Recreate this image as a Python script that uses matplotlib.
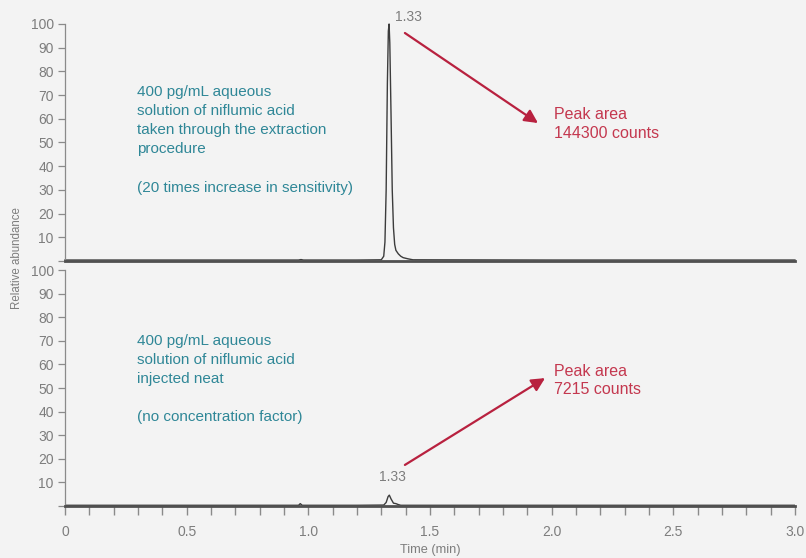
import matplotlib.pyplot as plt

plt.rcParams['font.family'] = ['Liberation Sans', 'DejaVu Sans']

# --------------------------------------------
# DATA
# --------------------------------------------
# top trace: extracted sample
t_top = [0.0, 0.5, 0.96, 0.97, 0.98, 1.20, 1.30, 1.31, 1.315, 1.32, 1.325,
         1.329, 1.332, 1.335, 1.34, 1.345, 1.35, 1.355, 1.36, 1.37, 1.38,
         1.39, 1.41, 1.43, 2.0, 3.0]
i_top = [0.4, 0.4, 0.4, 0.6, 0.4, 0.4, 0.5, 2.0, 8.0, 30.0, 75.0,
         97.0, 100.0, 92.0, 62.0, 30.0, 14.0, 7.0, 4.5, 3.0, 2.0,
         1.4, 0.9, 0.5, 0.4, 0.4]

# bottom trace: injected neat
t_bot = [0.0, 0.5, 0.96, 0.967, 0.975, 1.20, 1.31, 1.32, 1.328, 1.333,
         1.34, 1.35, 1.36, 1.37, 1.38, 2.0, 3.0]
i_bot = [0.3, 0.3, 0.3, 1.0, 0.3, 0.3, 0.4, 1.5, 4.0, 4.6,
         3.0, 1.2, 1.0, 0.6, 0.3, 0.3, 0.3]

peak_rt = 1.33
y_ticks = [0, 10, 20, 30, 40, 50, 60, 70, 80, 90, 100]
y_labels = [''] + [str(v) for v in y_ticks[1:]]
x_major = [0, 0.5, 1.0, 1.5, 2.0, 2.5, 3.0]
x_major_labels = ['0', '0.5', '1.0', '1.5', '2.0', '2.5', '3.0']
x_minor = [i / 10 for i in range(31)]

top_note = ("400 pg/mL aqueous\nsolution of niflumic acid\n"
            "taken through the extraction\nprocedure\n\n"
            "(20 times increase in sensitivity)")
bot_note = ("400 pg/mL aqueous\nsolution of niflumic acid\n"
            "injected neat\n\n(no concentration factor)")
top_area = "Peak area\n144300 counts"
bot_area = "Peak area\n7215 counts"

# --------------------------------------------
# STYLE
# --------------------------------------------
bg = '#f3f3f3'
teal = '#2f8797'
red = '#b8213f'
txt_red = '#c4384f'
label_grey = '#7d7d7d'
trace = '#3c3c3c'

fig = plt.figure(figsize=(8.06, 5.58), dpi=100, facecolor=bg)
ax_top = fig.add_axes([0.0806, 0.5323, 0.9057, 0.4247])
ax_bot = fig.add_axes([0.0806, 0.0932, 0.9057, 0.4229])

for ax in (ax_top, ax_bot):
    ax.set_facecolor(bg)
    ax.set_xlim(0, 3.0)
    ax.set_ylim(0, 100)
    for s in ('top', 'right'):
        ax.spines[s].set_visible(False)
    ax.spines['left'].set_color('#8a8a8a')
    ax.spines['left'].set_linewidth(0.9)
    ax.spines['bottom'].set_color('#505050')
    ax.spines['bottom'].set_linewidth(2.0)
    ax.set_yticks(y_ticks)
    ax.set_yticklabels(y_labels)
    ax.tick_params(axis='y', direction='out', length=5, width=0.9,
                   color='#8a8a8a', labelcolor=label_grey, labelsize=10, pad=3)

ax_top.plot(t_top, i_top, color=trace, lw=1.0, clip_on=False)
ax_bot.plot(t_bot, i_bot, color=trace, lw=1.0)

ax_top.set_xticks([])
ax_bot.set_xticks(x_minor, minor=True)
ax_bot.set_xticks(x_major)
ax_bot.set_xticklabels(x_major_labels)
ax_bot.tick_params(axis='x', which='both', direction='out', length=6.5,
                   width=1.0, color='#8a8a8a', labelcolor=label_grey,
                   labelsize=10, pad=7)

# retention time labels
ax_top.text(1.41, 103.0, f'{peak_rt:.2f}', color=label_grey, fontsize=10,
            ha='center', va='center', clip_on=False)
ax_bot.text(1.344, 12.3, f'{peak_rt:.2f}', color=label_grey, fontsize=10,
            ha='center', va='center')

# sample descriptions
ax_top.text(0.296, 74.3, top_note, color=teal, fontsize=11,
            ha='left', va='top', linespacing=1.47)
ax_bot.text(0.296, 73.0, bot_note, color=teal, fontsize=11,
            ha='left', va='top', linespacing=1.47)

# peak areas + arrows
ax_top.text(2.01, 57.8, top_area, color=txt_red, fontsize=11.5,
            ha='left', va='center', linespacing=1.27)
ax_bot.text(2.01, 53.3, bot_area, color=txt_red, fontsize=11.5,
            ha='left', va='center', linespacing=1.27)

arrow = dict(arrowstyle='-|>', color=red, lw=1.6, mutation_scale=20,
             shrinkA=0, shrinkB=0)
ax_top.annotate('', xy=(1.944, 58.2), xytext=(1.397, 96.2), arrowprops=arrow)
ax_bot.annotate('', xy=(1.973, 54.2), xytext=(1.397, 17.4), arrowprops=arrow)

fig.text(0.021, 0.537, 'Relative abundance', rotation=90, color=label_grey,
         fontsize=8.3, ha='center', va='center')
fig.text(0.534, 0.014, 'Time (min)', color=label_grey, fontsize=9.2,
         ha='center', va='center')

fig.savefig('out.png', dpi=100, facecolor=bg)
